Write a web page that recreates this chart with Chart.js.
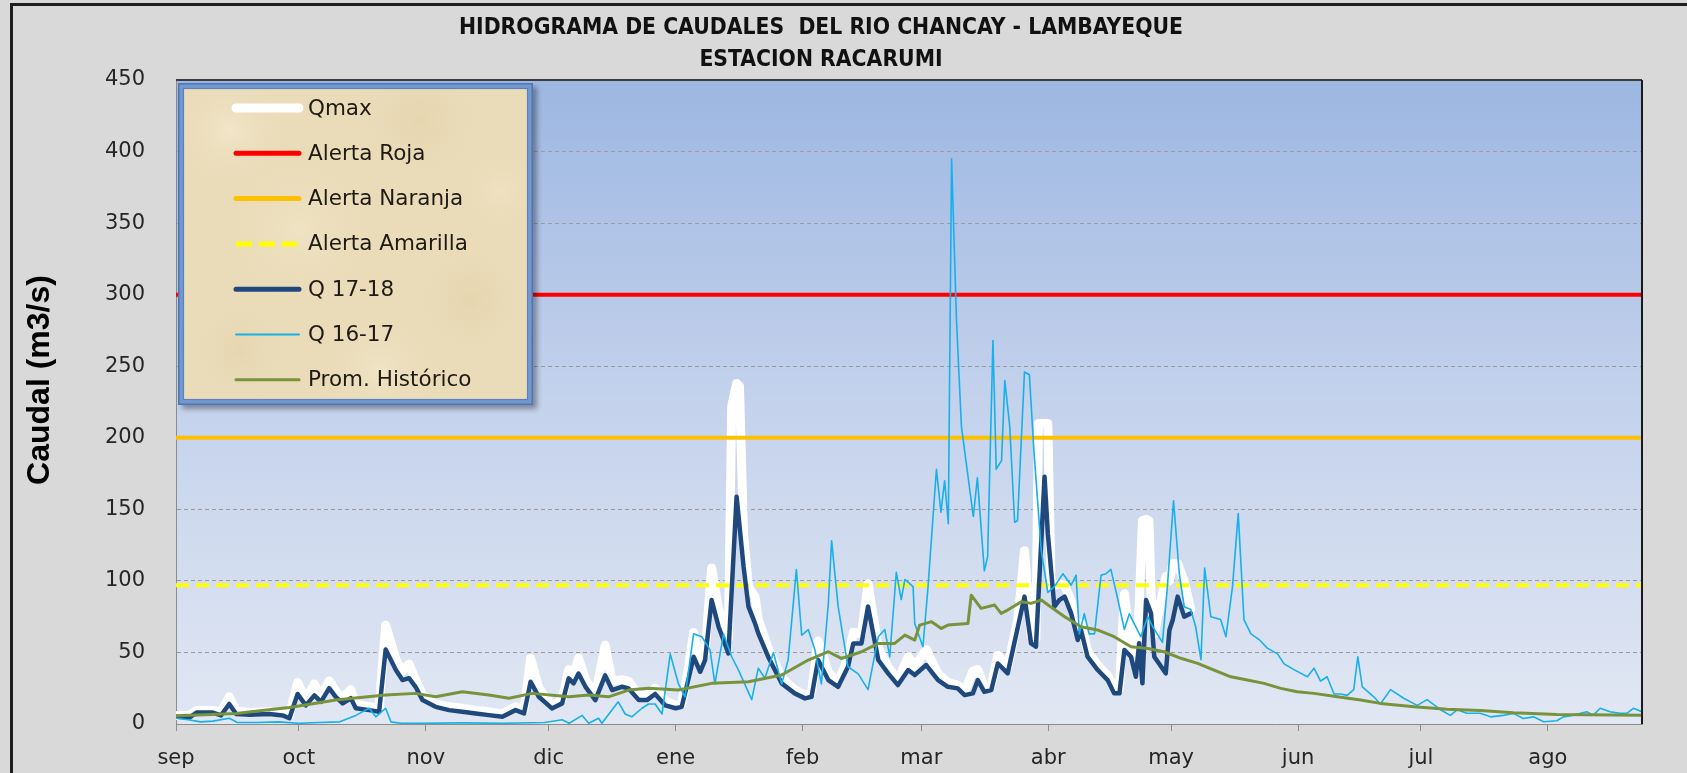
<!DOCTYPE html>
<html><head><meta charset="utf-8">
<script src="https://cdn.jsdelivr.net/npm/chart.js@4.4.0/dist/chart.umd.min.js"></script>
<style>html,body{margin:0;padding:0;background:#d9d9d9;overflow:hidden}canvas{display:block}</style>
</head><body>
<canvas id="c" width="1687" height="773"></canvas>
<script>
// ---- tick labels (month starts, day index from 1 sep) ----
const monthDays = [0,30,61,91,122,153,182,213,243,274,304,335];
const monthLabels = ['sep','oct','nov','dic','ene','feb','mar','abr','may','jun','jul','ago'];
const yTicksMax = 450;

// ---- alert thresholds ----
const alertaRoja = 300;
const alertaNaranja = 200;
const alertaAmarilla = 97;

// ---- series: [day, caudal m3/s] ----
const q1718 = [[0,5],[3.3,4.5],[5,8],[9,8],[11,6],[13,14],[14.7,7],[18,6.5],[22.8,7],[26,6],[27.7,4],[29.7,21],[31.7,13],[33.8,20],[35.4,15.5],[37.4,25],[39,19],[40.7,14.4],[42.7,18],[43.9,11],[47.2,9.7],[49.6,8.6],[51.2,52],[53.7,37.7],[55.3,30.7],[56.9,32],[58.5,26],[60.2,16.7],[63.4,12],[66.7,9.7],[69.9,8.6],[73.2,7.4],[76.4,6.2],[79.7,5.1],[82.9,9.7],[85,7.4],[86.6,29.5],[88.6,19],[91.8,10.9],[94.3,14.4],[95.9,31.9],[97.1,28.4],[98.3,35.3],[100,26],[102.4,16.7],[104.8,34],[106.5,23.7],[108.9,26],[110.5,24.9],[113,16.7],[115,16.7],[117,21],[119.5,13],[122,11],[123.5,12],[125.1,30.7],[126.4,47],[128,36.5],[129.2,44.7],[130.8,86.6],[132.5,68],[134.9,49.3],[136.9,158.8],[138.6,110],[139.8,82],[141.4,70.3],[142.2,63.3],[144.6,47],[147.9,28.4],[151.1,21.4],[153.6,17.9],[155.2,19],[156.8,44.7],[159.3,30.7],[161.7,26],[164.1,40],[165.4,56.3],[167.4,56.3],[169,82],[171.5,44.7],[173.9,35.4],[176.3,27.2],[178.8,37.7],[180.4,34.2],[183.2,41.2],[186.1,30.7],[188.5,26],[190.9,24.9],[192.6,20.2],[194.6,21.4],[195.8,30.7],[197.4,22.5],[199.1,23.7],[200.7,42.3],[203.1,35.4],[205.6,68],[207.2,89],[208.8,56.3],[210,54],[212.1,172.8],[212.9,133],[214.5,82],[215.7,86.6],[217,89],[218.6,77.3],[220.2,58.7],[221,65.7],[222.6,47],[225.1,37.7],[227.5,30.7],[229.1,21.4],[230.4,21.4],[231.6,51.7],[233.2,47],[234.4,33],[235.2,56.4],[236,28.4],[236.9,86.6],[238.1,77.3],[238.9,47],[241.7,35.4],[242.6,65.7],[243.4,72.7],[244.6,89],[246.2,75],[247.8,77.3]];

const qmax = [[0,6],[3.3,6],[5,9.5],[9,9.5],[11,8],[13,19],[14.7,9],[18,8],[22.8,8.5],[26,7.5],[27.7,6],[29.7,29],[31.7,17],[33.8,28],[35.4,19],[37.4,30],[39,23],[40.7,18],[42.7,24],[43.9,14],[47.2,12],[49.6,11],[51.2,69],[53.7,45],[55.3,37],[56.9,42],[58.5,31],[60.2,20],[63.4,14],[66.7,12],[69.9,11],[73.2,9.5],[76.4,8.5],[79.7,7],[82.9,12],[85,9.5],[86.6,46],[88.6,25],[91.8,13],[94.3,17],[95.9,38],[97.1,34],[98.3,46],[100,31],[102.4,20],[104.8,55],[106.5,30],[108.9,31],[110.5,30],[113,20],[115,20],[117,25],[119.5,16],[122,13],[123.5,14],[125.1,38],[126.4,64],[128,43],[129.2,50],[130.8,109],[132.5,80],[134.9,60],[135.7,222],[136.9,238],[137.6,236],[138.6,132],[139.8,96],[141.4,89],[142.2,73],[144.6,53],[147.9,32],[151.1,24],[153.6,20],[155.2,22],[156.8,58],[159.3,36],[161.7,29],[164.1,46],[165.4,64],[167.4,63],[169,98],[171.5,53],[173.9,40],[176.3,30],[178.8,47],[180.4,40],[183.2,52],[186.1,35],[188.5,29],[190.9,27],[192.6,23],[194.6,37],[195.8,38],[197.4,26],[199.1,27],[200.7,48],[203.1,40],[205.6,73],[207.2,121],[208.8,62],[210,60],[210.6,210],[212.1,210],[212.9,210],[213.7,96],[215.7,98],[217,97],[218.6,86],[220.2,64],[221,70],[222.6,51],[225.1,41],[227.5,34],[229.1,25],[230.4,25],[231.6,91],[233.2,54],[234.4,50],[235.2,82],[236,142],[236.9,143],[237.6,142],[238.1,91],[238.9,63],[241.7,103],[242.6,100],[243.4,112],[244.6,112],[246.2,100],[247.8,80]];

const q1617 = [[0,4],[3,3],[6,1.5],[9,2],[13,4],[15,1],[20,1],[25,1.5],[30,0.5],[35,1],[40,1.5],[43.9,6],[47.2,11],[48.8,5],[51.2,11],[52.5,1.5],[55,0.5],[60,0.5],[70,0.8],[80,0.5],[90,1],[94.3,3],[96,0.5],[99.2,6],[100.8,0.5],[103.2,4],[104,0.5],[108,15.5],[109.7,7],[111.3,5],[113.8,11],[115.4,14],[117,14],[118.7,7],[120.7,49],[122.7,28],[124.3,19],[126.4,63],[128.4,61],[130.4,52],[131.6,28],[133.7,63],[135.7,47],[137.3,38],[140.6,17],[142.2,39],[143.8,32],[145.9,50],[147.9,28],[149.5,45],[151.5,108],[152.8,62],[154.4,66],[156,52],[157.6,28],[159.3,84],[160.1,128],[161.7,82],[164.1,40],[166.6,35],[169,24],[171.5,61],[173.1,66],[174.3,47],[175.9,106],[177.1,87],[178,101],[180,96],[180.4,70],[182.4,54],[183.6,94],[185.7,178],[186.8,148],[187.7,170],[188.6,140],[189.4,395],[190.6,282],[191.8,208],[193,182],[194.7,145],[195.7,172],[197.4,107],[198.2,117],[199.5,268],[200.3,178],[201.6,184],[202.4,240],[203.6,208],[204.8,141],[205.5,142],[207.2,246],[208.4,244],[209.5,191],[211.3,121],[212.9,92],[214.5,96],[216.6,105],[218.6,97],[219.8,104],[220.6,63],[221.8,77],[223,63],[224.3,63],[225.9,104],[227.1,105],[228.3,108],[230,87],[231.6,66],[232.8,77],[235.6,61],[237.3,75],[238.5,68],[240.9,57],[242.1,96],[243.6,156],[245,105],[246.2,82],[247.8,80],[249,68],[250.3,45],[251.2,109],[252.7,75],[255.1,73],[256.4,61],[258,96],[259.4,147],[260.8,73],[262.5,63],[264.5,59],[266.5,53],[269,49],[270.6,42],[273,38],[276.3,33],[277.9,39],[279.5,30],[281.1,33],[282.8,21],[284.4,21],[286,20],[287.6,24],[288.6,47],[289.7,26],[292.5,19],[294.1,14],[296.6,24],[299.8,18],[303.1,13],[305.5,17],[308.8,10],[311.2,6],[312.9,10],[315.2,7.5],[318.5,7.5],[321,5],[324,6],[326.6,7.4],[329,3.9],[331.5,5],[334,1.6],[337.2,2.3],[338.8,5],[341.3,6.2],[344.5,8.6],[346.1,6.2],[347.8,11],[350.2,8.6],[352.7,7.4],[354.3,7.4],[355.9,11],[358,8.6]];

const promHist = [[0,5.8],[7,6.5],[14.7,7.4],[21,9.5],[27.7,11.5],[33,14],[39,16.7],[45,18.5],[51.2,20.2],[58.5,21.4],[63.4,19],[69.9,22.5],[76.4,20.2],[81.3,18],[87,21.4],[96,19],[100.8,20.2],[105.6,19],[110.5,23.7],[115.4,24.9],[122.7,23.7],[130.8,28.4],[139.8,29.5],[147.9,34.2],[154.4,44.7],[159.3,50.5],[162.5,45.8],[167.4,50.5],[171.5,56.3],[175.5,56.3],[178,62.1],[180.4,58.6],[181.6,69.1],[184.5,71.5],[186.9,66.8],[188.5,69.1],[193.4,70.3],[194.2,90],[196.6,80.8],[199.9,83.1],[201.5,77.3],[203.1,79.6],[206.4,85.4],[208.8,84.3],[211.3,86.6],[214.5,80],[217,75],[221,68],[225,65.7],[229.1,61],[233.2,54],[237.3,52.8],[241.3,50.5],[245.4,45.9],[249.5,42.4],[253.5,37.7],[257.6,33],[261.6,30.7],[265.7,28.4],[269.8,24.9],[273.8,22.6],[277.9,21.4],[283.6,19],[289.3,16.8],[294.1,14.4],[302.3,12.1],[310.4,10.3],[318.5,9.5],[326.6,7.9],[337.2,6.7],[358,6.2]];

const xMax = 358;

const toPts = arr => arr.map(p => ({x: p[0], y: p[1]}));
const flat = v => [{x: 0, y: v}, {x: xMax, y: v}];

const SANS = 'DejaVu Sans, Verdana, sans-serif';

const bgPlugin = {
  id: 'bg',
  beforeDraw(chart) {
    const {ctx, chartArea: a} = chart;
    ctx.save();
    ctx.fillStyle = '#d9d9d9';
    ctx.fillRect(0, 0, chart.width, chart.height);
    ctx.fillStyle = '#1e1e1e';
    ctx.fillRect(10, 3, chart.width - 10, 3);
    ctx.fillRect(10, 3, 3, chart.height - 3);
    const g = ctx.createLinearGradient(0, a.top, 0, a.bottom);
    g.addColorStop(0, '#9db7e2');
    g.addColorStop(0.5, '#c4d2ec');
    g.addColorStop(1, '#e1e7f3');
    ctx.fillStyle = g;
    ctx.fillRect(a.left, a.top, a.right - a.left, a.bottom - a.top);
    ctx.restore();
  },
  afterDraw(chart) {
    const {ctx, chartArea: a} = chart;
    ctx.save();
    ctx.strokeStyle = '#3c3c3c';
    ctx.lineWidth = 2;
    ctx.beginPath();
    ctx.moveTo(a.left, a.top); ctx.lineTo(a.right, a.top);
    ctx.stroke();
    ctx.strokeStyle = '#1a1a1a';
    ctx.beginPath();
    ctx.moveTo(a.right, a.top); ctx.lineTo(a.right, a.bottom);
    ctx.stroke();
    // y axis title
    ctx.translate(40, 380);
    ctx.rotate(-Math.PI / 2);
    ctx.font = 'bold 32px "Liberation Sans", Arial, sans-serif';
    ctx.fillStyle = '#000';
    ctx.textAlign = 'center';
    ctx.textBaseline = 'middle';
    ctx.fillText('Caudal (m3/s)', 0, 0);
    ctx.restore();
  }
};

const legendSample = [9, 5, 5, 5, 5, 2, 3];
const blotches = [[230,130,60,'rgba(246,236,210,0.6)'],[420,120,70,'rgba(222,204,160,0.4)'],[300,230,80,'rgba(245,234,205,0.5)'],[470,300,60,'rgba(220,200,155,0.35)'],[240,350,55,'rgba(224,206,162,0.4)'],[380,370,60,'rgba(246,236,210,0.5)'],[500,190,40,'rgba(244,232,200,0.5)']];
const legendPlugin = {
  id: 'customLegend',
  afterDraw(chart) {
    const ctx = chart.ctx;
    const x = 178, y = 83, w = 355, h = 322;
    ctx.save();
    ctx.shadowColor = 'rgba(0,0,0,0.35)';
    ctx.shadowBlur = 5; ctx.shadowOffsetX = 4; ctx.shadowOffsetY = 4;
    ctx.fillStyle = '#7398d0';
    ctx.fillRect(x, y, w, h);
    ctx.shadowColor = 'transparent';
    ctx.strokeStyle = '#4d76b4'; ctx.lineWidth = 1.5;
    ctx.strokeRect(x + 0.75, y + 0.75, w - 1.5, h - 1.5);
    ctx.fillStyle = '#eadcb9';
    ctx.fillRect(x + 5, y + 5, w - 10, h - 10);
    ctx.save();
    ctx.beginPath(); ctx.rect(x + 5, y + 5, w - 10, h - 10); ctx.clip();
    blotches.forEach(b => {
      const rg = ctx.createRadialGradient(b[0], b[1], 0, b[0], b[1], b[2]);
      rg.addColorStop(0, b[3]); rg.addColorStop(1, 'rgba(234,220,185,0)');
      ctx.fillStyle = rg; ctx.fillRect(b[0]-b[2], b[1]-b[2], b[2]*2, b[2]*2);
    });
    ctx.restore();
    ctx.strokeStyle = '#5a82bf'; ctx.lineWidth = 1.2;
    ctx.strokeRect(x + 5.5, y + 5.5, w - 11, h - 11);
    ctx.font = '21.5px ' + SANS;
    ctx.textBaseline = 'middle';
    ctx.textAlign = 'left';
    chart.data.datasets.forEach((ds, i) => {
      const yy = 108 + i * 45.3;
      ctx.beginPath();
      ctx.strokeStyle = ds.borderColor;
      ctx.lineWidth = legendSample[i];
      ctx.lineCap = ds.borderDash ? 'butt' : 'round';
      ctx.setLineDash(ds.borderDash ? [16, 7] : []);
      ctx.moveTo(236, yy); ctx.lineTo(ds.borderDash ? 297 : 299, yy);
      ctx.stroke();
      ctx.setLineDash([]);
      ctx.fillStyle = '#1f1a14';
      ctx.fillText(ds.label, 308, yy + 1);
    });
    ctx.restore();
  }
};

const common = {pointRadius: 0, pointHoverRadius: 0, tension: 0, fill: false, borderJoinStyle: 'round', borderCapStyle: 'round'};

new Chart(document.getElementById('c'), {
  type: 'line',
  data: {
    datasets: [
      Object.assign({label: 'Qmax', data: toPts(qmax), borderColor: '#ffffff', borderWidth: 9, order: 10}, common),
      Object.assign({label: 'Alerta Roja', data: flat(alertaRoja), borderColor: '#ff0000', borderWidth: 4, order: 6}, common),
      Object.assign({label: 'Alerta Naranja', data: flat(alertaNaranja), borderColor: '#ffc000', borderWidth: 4, order: 7}, common),
      Object.assign({label: 'Alerta Amarilla', data: flat(alertaAmarilla), borderColor: '#ffff00', borderWidth: 4, borderDash: [13, 7], order: 8}, common, {borderCapStyle: 'butt'}),
      Object.assign({label: 'Q 17-18', data: toPts(q1718), borderColor: '#1f497d', borderWidth: 4.5, order: 3}, common),
      Object.assign({label: 'Q 16-17', data: toPts(q1617), borderColor: '#17b0ea', borderWidth: 1.6, order: 2}, common),
      Object.assign({label: 'Prom. Histórico', data: toPts(promHist), borderColor: '#77933c', borderWidth: 3, order: 1}, common)
    ]
  },
  options: {
    responsive: false,
    animation: false,
    devicePixelRatio: 1,
    parsing: false,
    layout: {padding: {left: 0, right: 45, top: 0, bottom: 0}},
    plugins: {
      legend: {display: false},
      tooltip: {enabled: false},
      title: {
        display: true,
        text: ['HIDROGRAMA DE CAUDALES  DEL RIO CHANCAY - LAMBAYEQUE', 'ESTACION RACARUMI'],
        color: '#111111',
        font: {family: '"Liberation Sans Narrow", "DejaVu Sans Condensed", "Liberation Sans", sans-serif', size: 22.7, weight: 'bold', lineHeight: '32px'},
        padding: {top: 12, bottom: 4}
      }
    },
    scales: {
      x: {
        type: 'linear', min: 0, max: xMax,
        afterBuildTicks: s => { s.ticks = monthDays.map(v => ({value: v})); },
        afterFit: s => { s.height = 49; },
        grid: {drawOnChartArea: false, drawTicks: true, tickLength: 7, color: '#8c8c8c'},
        border: {display: true, color: '#8c8c8c', width: 1},
        ticks: {
          autoSkip: false, maxRotation: 0, padding: 15, color: '#262626',
          font: {family: SANS, size: 21},
          callback: v => { const i = monthDays.indexOf(v); return i >= 0 ? monthLabels[i] : ''; }
        }
      },
      y: {
        min: 0, max: yTicksMax,
        afterFit: s => { s.width = 176; },
        grid: {drawTicks: false, color: c => (c.tick && (c.tick.value === 0 || c.tick.value === yTicksMax)) ? 'rgba(0,0,0,0)' : '#9c9c9c', lineWidth: 1},
        border: {display: true, color: '#8c8c8c', width: 1, dash: [4, 3]},
        ticks: {stepSize: 50, padding: 31, color: '#262626', font: {family: SANS, size: 21}}
      }
    }
  },
  plugins: [bgPlugin, legendPlugin]
});
</script>
</body></html>
